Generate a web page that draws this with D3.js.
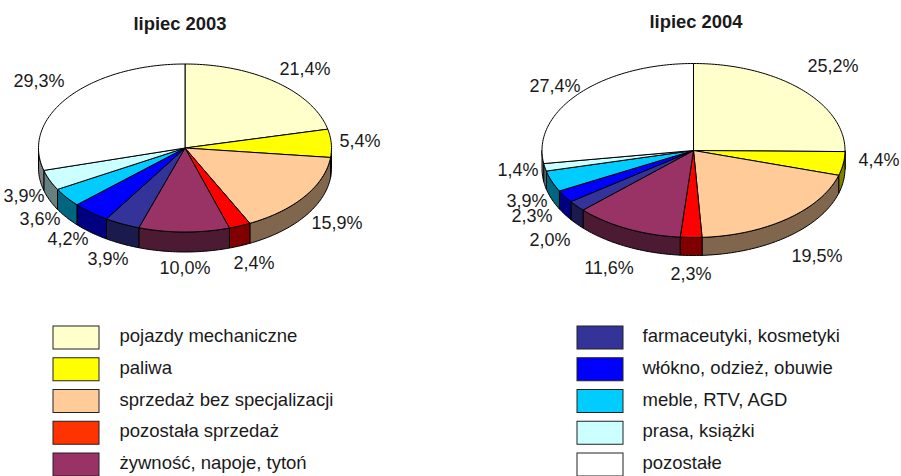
<!DOCTYPE html>
<html>
<head>
<meta charset="utf-8">
<script src="https://cdn.jsdelivr.net/npm/d3@7"></script>
<style>
  html, body { margin: 0; padding: 0; background: #fff; overflow: hidden; }
  svg { display: block; }
  text { font-family: "Liberation Sans", Arial, sans-serif; fill: #1a1a1a; }
</style>
</head>
<body>
<div id="chart"></div>
<script>
const categories = ["pojazdy mechaniczne", "paliwa", "sprzedaż bez specjalizacji", "pozostała sprzedaż",
  "żywność, napoje, tytoń", "farmaceutyki, kosmetyki", "włókno, odzież, obuwie", "meble, RTV, AGD",
  "prasa, książki", "pozostałe"];
const colors = ["#ffffcc", "#ffff00", "#ffcc99", "#ff0000", "#993366", "#333399", "#0000ff", "#00ccff", "#ccffff", "#ffffff"];
const legendRed = "#ff3300";

const values2003 = [21.4, 5.4, 15.9, 2.4, 10.0, 3.9, 4.2, 3.6, 3.9, 29.3];
const values2004 = [25.2, 4.4, 19.5, 2.3, 11.6, 2.0, 2.3, 3.9, 1.4, 27.4];

// label anchor points picked by hand, the original labels were placed by excel
const labels2003 = [[305, 75], [360, 147], [337, 229], [254, 269], [185, 274], [108, 265], [68, 245], [40, 225], [24, 202], [39, 87]];
const labels2004 = [[833, 72], [879, 166], [817, 262], [691, 280], [609, 274], [550, 246], [532, 222], [527, 207], [518, 176], [555, 92]];

const svg = d3.select("#chart").append("svg").attr("width", 901).attr("height", 476);

const pie = d3.pie().sort(null).value(d => d);
const midLeft = Math.PI / 2, midRight = Math.PI * 1.5;

function draw_pie(title, titleX, values, labels, p)
{
  const g = svg.append("g");
  const px = a => p.cx + p.rx * Math.sin(a);
  const py = a => p.cy - p.ry * Math.cos(a);
  const line = d3.line();
  const slices = pie(values);

  function samples(a0, a1)
  {
    const n = Math.max(2, Math.ceil((a1 - a0) / 0.02));
    return d3.range(n + 1).map(i => a0 + (a1 - a0) * i / n);
  }

  // side walls first, only the front half of the ellipse shows
  slices.forEach((s, i) => {
    const a0 = Math.max(s.startAngle, midLeft), a1 = Math.min(s.endAngle, midRight);
    if (a1 <= a0) return;
    const as = samples(a0, a1);
    const pts = as.map(a => [px(a), py(a)])
      .concat(as.slice().reverse().map(a => [px(a), py(a) + p.depth]));
    const c = d3.color(colors[i]);
    g.append("path")
      .attr("d", line(pts) + "Z")
      .attr("fill", d3.rgb(c.r / 2, c.g / 2, c.b / 2))
      .attr("stroke", "#000")
      .attr("stroke-width", 1)
      .attr("stroke-linejoin", "round");
  });

  slices.forEach((s, i) => {
    const pts = [[p.cx, p.cy]].concat(samples(s.startAngle, s.endAngle).map(a => [px(a), py(a)]));
    g.append("path")
      .attr("d", line(pts) + "Z")
      .attr("fill", colors[i])
      .attr("stroke", "#000")
      .attr("stroke-width", 1)
      .attr("stroke-linejoin", "round");
  });

  g.selectAll("text.val")
    .data(values)
    .enter()
    .append("text")
      .attr("class", "val")
      .attr("x", (d, i) => labels[i][0])
      .attr("y", (d, i) => labels[i][1])
      .attr("text-anchor", "middle")
      .attr("font-size", "18px")
      .text(d => d.toFixed(1).replace(".", ",") + "%");

  g.append("text")
    .attr("x", titleX)
    .attr("y", p.titleY)
    .attr("text-anchor", "middle")
    .attr("font-size", "18.4px")
    .attr("font-weight", "bold")
    .text(title);
}

draw_pie("lipiec 2003", 180, values2003, labels2003, {cx: 185, cy: 148, rx: 146.5, ry: 84, depth: 20, titleY: 30});
draw_pie("lipiec 2004", 696, values2004, labels2004, {cx: 693.5, cy: 150.5, rx: 151.5, ry: 87, depth: 18, titleY: 28});

function draw_legend(items, swatchX, textX)
{
  const y = d3.scaleLinear().domain([0, 4]).range([326, 453]);
  const g = svg.append("g");
  items.forEach((idx, row) => {
    g.append("rect")
      .attr("x", swatchX)
      .attr("y", y(row))
      .attr("width", 46)
      .attr("height", 23)
      .attr("fill", idx === 3 ? legendRed : colors[idx])
      .attr("stroke", "#222")
      .attr("stroke-width", 1);
    g.append("text")
      .attr("x", textX)
      .attr("y", y(row) + 16)
      .attr("font-size", "18.5px")
      .text(categories[idx]);
  });
}

draw_legend([0, 1, 2, 3, 4], 53, 119.5);
draw_legend([5, 6, 7, 8, 9], 577, 642.5);
</script>
</body>
</html>
